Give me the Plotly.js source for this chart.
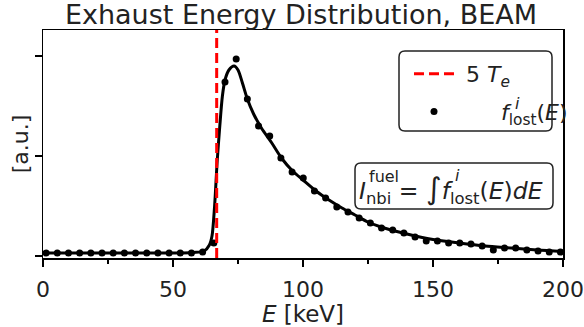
<!DOCTYPE html>
<html><head><meta charset="utf-8">
<script src="https://cdn.plot.ly/plotly-3.0.1.min.js"></script>
<style>html,body{margin:0;padding:0;background:#fff}#chart{width:584px;height:327px}</style>
</head><body><div id="chart"></div>
<script>
// Sampled lost-ion energy distribution (dots)
const E_pts = [1.2, 5.5, 9.8, 14.1, 18.4, 22.7, 27.0, 31.3, 35.6, 39.9, 44.2, 48.5, 52.8, 57.1, 61.4, 65.7, 70.0, 74.3, 78.6, 82.9, 87.2, 91.5, 95.8, 100.1, 104.4, 108.7, 113.0, 117.3, 121.6, 125.9, 130.2, 134.5, 138.8, 143.1, 147.4, 151.7, 156.0, 160.3, 164.6, 168.9, 173.2, 177.5, 181.8, 186.1, 190.4, 194.7, 199.0];
const f_pts = [0.03, 0.03, 0.03, 0.03, 0.03, 0.03, 0.03, 0.03, 0.03, 0.03, 0.03, 0.03, 0.03, 0.03, 0.04, 0.13, 1.74, 1.97, 1.57, 1.30, 1.20, 0.98, 0.84, 0.78, 0.65, 0.58, 0.49, 0.44, 0.38, 0.33, 0.28, 0.26, 0.23, 0.19, 0.15, 0.15, 0.13, 0.13, 0.12, 0.10, 0.06, 0.08, 0.08, 0.06, 0.05, 0.04, 0.04];
// Smooth fitted curve (line)
const E_fit = [0, 10, 20, 30, 40, 50, 58, 62, 64, 65, 66, 67, 68, 69, 70, 71.5, 73.5, 75, 76.7, 78.6, 81, 84, 88, 92, 96, 100, 105, 110, 115, 120, 125, 130, 140, 150, 160, 170, 180, 190, 200];
const f_fit = [0.03, 0.03, 0.03, 0.03, 0.03, 0.03, 0.035, 0.05, 0.11, 0.2, 0.5, 0.95, 1.3, 1.6, 1.76, 1.86, 1.90, 1.86, 1.73, 1.57, 1.42, 1.28, 1.13, 0.97, 0.85, 0.76, 0.65, 0.56, 0.48, 0.41, 0.34, 0.29, 0.22, 0.165, 0.13, 0.10, 0.08, 0.06, 0.045];
// 5 T_e marker
const TE5 = 66.8;
const Y_RANGE = [-0.02, 2.26];
const X_TICKS = [0, 50, 100, 150, 200];
const X_TICKTEXT = ['0', '50', '100', '150', '200'];
const Y_TICKS = [0, 1, 2];

const W = 584, H = 327, L = 43, R = 21, T = 30, B = 69;
const pw = W - L - R, ph = H - T - B;
const px = x => (x - L) / pw;
const py = y => (H - B - y) / ph;
function roundRect(x0, y0, x1, y1, r) {
  const rx = r / pw, ry = r / ph;
  const a = px(x0), b = px(x1), c = py(y0), d = py(y1);
  return `M${a + rx},${c} L${b - rx},${c} Q${b},${c} ${b},${c - ry} L${b},${d + ry} Q${b},${d} ${b - rx},${d} L${a + rx},${d} Q${a},${d} ${a},${d + ry} L${a},${c - ry} Q${a},${c} ${a + rx},${c} Z`;
}
const FONT = 'DejaVu Sans';
const NB = '\u00A0';

const traces = [
  {x: E_fit, y: f_fit, mode: 'lines', line: {color: '#000', width: 3, shape: 'spline', smoothing: 0.8}, showlegend: false, hoverinfo: 'skip'},
  {x: E_pts, y: f_pts, mode: 'markers', marker: {color: '#000', size: 7}, name: NB.repeat(6) + '<i>f</i><sub>lost</sub>(<i>E</i>)', legendrank: 2, legendgroup: 'b'},
  {x: [TE5, TE5], y: Y_RANGE, mode: 'lines', line: {color: '#ff0000', width: 3, dash: '10px,5px'}, name: NB + '5 <i>T<sub>e</sub></i>', legendrank: 1, legendgroup: 'a'}
];

const layout = {
  width: W, height: H,
  margin: {l: L, r: R, t: T, b: B, autoexpand: false},
  paper_bgcolor: '#fff', plot_bgcolor: '#fff',
  font: {family: FONT, color: '#222', size: 22},
  title: {text: 'Exhaust Energy Distribution, BEAM', font: {family: FONT, size: 27, color: '#222'}, x: px(301), xanchor: 'center', y: 1 - 15 / H, yanchor: 'middle', yref: 'container', xref: 'paper'},
  xaxis: {range: [0, 200], tickvals: X_TICKS, ticktext: X_TICKTEXT, ticks: 'outside', ticklen: 7, tickwidth: 1.5, tickcolor: '#000',
    minor: {dtick: 25, tick0: 0, ticks: 'outside', ticklen: 4, tickwidth: 1.2, tickcolor: '#000'},
    showline: true, linecolor: '#000', linewidth: 1.5, mirror: true, showgrid: false, zeroline: false,
    ticklabelstandoff: 4,
    tickfont: {size: 22, family: FONT, color: '#222'},
    title: {text: '<i>E</i> [keV]', font: {size: 23, family: FONT, color: '#222'}, standoff: 5}},
  yaxis: {range: Y_RANGE, tickvals: Y_TICKS, showticklabels: false, ticks: 'outside', ticklen: 7, tickwidth: 1.5, tickcolor: '#000',
    showline: true, linecolor: '#000', linewidth: 1.5, mirror: true, showgrid: false, zeroline: false,
    title: {text: '[a.u.]', font: {size: 22, family: FONT, color: '#222'}, standoff: 0}},
  showlegend: true,
  legend: {x: px(409), y: py(53), xanchor: 'left', yanchor: 'top', bgcolor: 'rgba(0,0,0,0)', borderwidth: 0,
    font: {size: 22, family: FONT, color: '#222'}, traceorder: 'grouped', tracegroupgap: 6, itemwidth: 40},
  shapes: [
    {type: 'path', xref: 'paper', yref: 'paper', path: roundRect(399, 51, 552, 131, 6), line: {color: '#222', width: 1.5}, fillcolor: 'rgba(255,255,255,0.9)', layer: 'above'},
    {type: 'path', xref: 'paper', yref: 'paper', path: roundRect(355, 163, 553, 209, 6), line: {color: '#222', width: 1.5}, fillcolor: 'rgba(255,255,255,0.9)', layer: 'above'}
  ],
  annotations: [
    {xref: 'paper', yref: 'paper', x: px(451), y: py(189), xanchor: 'center', yanchor: 'middle', showarrow: false,
     text: '<i>I</i><sub>nbi</sub>' + NB + '= <span style="font-size:30px">∫</span><i>f</i><sub>lost</sub>(<i>E</i>)<i>dE</i>', font: {size: 23.5, family: FONT, color: '#222'}},
    {xref: 'paper', yref: 'paper', x: px(367), y: py(176), xanchor: 'left', yanchor: 'middle', showarrow: false, text: 'fuel', font: {size: 16, family: FONT, color: '#222'}},
    {xref: 'paper', yref: 'paper', x: px(453), y: py(175), xanchor: 'left', yanchor: 'middle', showarrow: false, text: '<i>i</i>', font: {size: 16, family: FONT, color: '#222'}},
    {xref: 'paper', yref: 'paper', x: px(513), y: py(103), xanchor: 'left', yanchor: 'middle', showarrow: false, text: '<i>i</i>', font: {size: 16, family: FONT, color: '#222'}}
  ]
};
Plotly.newPlot('chart', traces, layout, {displayModeBar: false, staticPlot: true});
</script></body></html>
